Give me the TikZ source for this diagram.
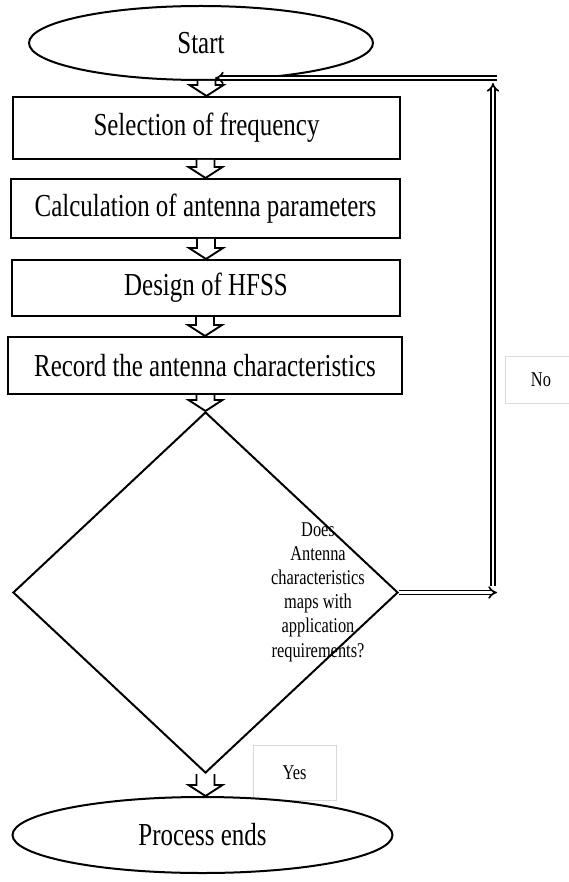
\documentclass[tikz,border=0pt]{standalone}
\usepackage{fontspec}
\setmainfont{Liberation Serif}[FakeStretch=0.78]
\usetikzlibrary{shapes.geometric,arrows.meta,calc}
\definecolor{lblgray}{gray}{0.85}
\begin{document}
\begin{tikzpicture}[x=1pt,y=-1pt,
  procbox/.style={draw, line width=2pt, rectangle, inner sep=0pt, font=\fontsize{32}{36}\selectfont},
  termnode/.style={draw, ellipse, fill=white, line width=2pt, inner sep=0pt, font=\fontsize{32}{36}\selectfont},
  decnode/.style={draw, diamond, line width=2pt, inner sep=0pt},
  dectext/.style={align=center, inner sep=0pt, font=\fontsize{21}{24.2}\selectfont},
  lblbox/.style={draw=lblgray, line width=0.7pt, inner sep=0pt, font=\fontsize{21}{24}\selectfont},
  fb/.style={double, double distance=2.4pt, line width=1.7pt},
  harrow/.style={draw, fill=white, line width=1.9pt, line join=miter,
    to path={let \p1=(\tikztostart), \p2=(\tikztotarget) in
      (\x2-9pt,\y1) -- (\x2-9pt,\y2+11pt) -- (\x2-17pt,\y2+11pt) -- (\x2,\y2)
      -- (\x2+17pt,\y2+11pt) -- (\x2+9pt,\y2+11pt) -- (\x2+9pt,\y1)}}
]
\useasboundingbox (0,0) rectangle (568,882);

% label boxes (drawn first)
\node[lblbox, minimum width=72pt, minimum height=47pt] (nolbl) at (541,379.5) {No};
\node[lblbox, minimum width=83pt, minimum height=55pt] (yeslbl) at (294.5,772.5) {Yes};

% nodes
\node[termnode, minimum width=344pt, minimum height=74pt] (s) at (201,43) {Start};
\node[procbox, minimum width=387pt, minimum height=62pt] (b1) at (206.5,128) {Selection of frequency};
\node[procbox, minimum width=389pt, minimum height=59pt] (b2) at (205.5,208.5) {Calculation of antenna parameters};
\node[procbox, minimum width=388pt, minimum height=56pt] (b3) at (206,288) {Design of HFSS};
\node[procbox, minimum width=394pt, minimum height=57pt] (b4) at (205,365.5) {Record the antenna characteristics};
\node[decnode, minimum width=385pt, minimum height=361pt] (d) at (205.5,592.5) {};
\node[dectext] (dt) at (318,592) {Does\\Antenna\\characteristics\\maps with\\application\\requirements?};
\node[termnode, minimum width=380pt, minimum height=76pt] (e) at (202.5,835) {Process ends};

% feedback loop
\coordinate (rc) at (497,592.5);
\coordinate (vb) at (493,586);
\coordinate (vt) at (493,83);
\coordinate (tr) at (497,78);
\coordinate (tl) at (215,78);
\draw[fb, -{Implies}] (d.east) -- (rc);
\draw[fb, -{Implies}] (vb) -- (vt);
\draw[fb, -{Implies}] (tr) -- (tl);

% hollow block arrows
\draw[harrow] (s.south -| b1.north) to (b1.north);
\draw[harrow] (b1.south) to (b2.north);
\draw[harrow] (b2.south) to (b3.north);
\draw[harrow] (b3.south) to (b4.north);
\draw[harrow] (b4.south) to (d.north);
\draw[harrow] (d.south) to (d.south |- e.north);
\end{tikzpicture}
\end{document}
